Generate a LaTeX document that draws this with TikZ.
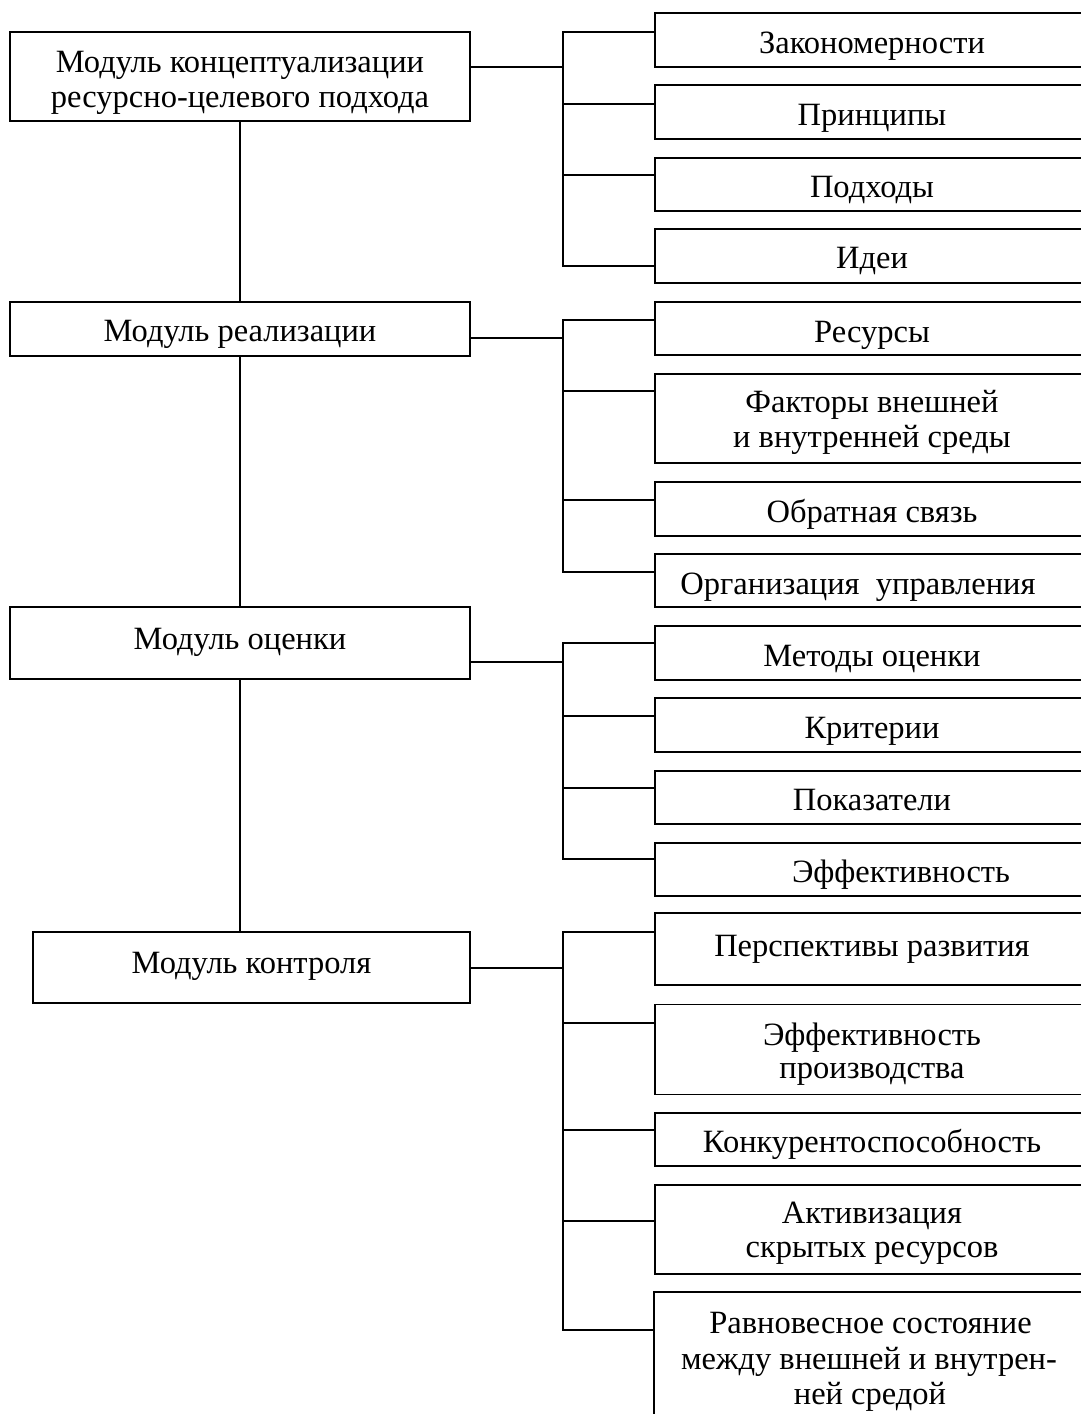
\documentclass[tikz,border=0pt]{standalone}
\usepackage{fontspec}
\setmainfont{Liberation Serif}
\begin{document}
\begin{tikzpicture}[x=1pt,y=-1pt,
  box/.style={draw, line width=1.6pt, inner sep=0pt},
  lbox/.style={box, minimum width=460pt},
  rbox/.style={box, minimum width=434pt},
  tl/.style={font=\fontsize{32.5}{35}\selectfont, inner sep=0pt, anchor=base},
  conn/.style={line width=1.6pt}]
\useasboundingbox (0,0) rectangle (1081,1414);
% left column boxes
\node[lbox, minimum height=89pt] (L1) at (240,76.5) {};
\node[lbox, minimum height=54pt] (L2) at (240,329) {};
\node[lbox, minimum height=72pt] (L3) at (240,643) {};
\node[box, minimum width=437pt, minimum height=71pt] (L4) at (251.5,967.5) {};
% left column texts
\node[tl, yshift=4.5pt] (tL1a) at (L1.center) {Модуль концептуализации};
\node[tl, yshift=-30.5pt] (tL1b) at (L1.center) {ресурсно-целевого подхода};
\node[tl, yshift=-12pt] (tL2) at (L2.center) {Модуль реализации};
\node[tl, yshift=-6pt] (tL3) at (L3.center) {Модуль оценки};
\node[tl, yshift=-5.5pt] (tL4) at (L4.center) {Модуль контроля};
% right column boxes
\node[rbox, minimum height=54pt] (R1a) at (872,40) {};
\node[rbox, minimum height=54pt] (R1b) at (872,112) {};
\node[rbox, minimum height=53pt] (R1c) at (872,184.5) {};
\node[rbox, minimum height=54pt] (R1d) at (872,256) {};
\node[rbox, minimum height=53pt] (R2a) at (872,328.5) {};
\node[rbox, minimum height=89pt] (R2b) at (872,418.5) {};
\node[rbox, minimum height=54pt] (R2c) at (872,509) {};
\node[rbox, minimum height=53pt] (R2d) at (872,580.5) {};
\node[rbox, minimum height=54pt] (R3a) at (872,653) {};
\node[rbox, minimum height=54pt] (R3b) at (872,725) {};
\node[rbox, minimum height=53pt] (R3c) at (872,797.5) {};
\node[rbox, minimum height=53pt] (R3d) at (872,869.5) {};
\node[rbox, minimum height=72pt] (R4a) at (872,949) {};
\node[rbox, minimum height=90pt] (R4b) at (872,1049.5) {};
\node[rbox, minimum height=53pt] (R4c) at (872,1139.5) {};
\node[rbox, minimum height=89pt] (R4d) at (872,1229.5) {};
\node[rbox, draw=none, minimum height=148pt] (R4e) at (872,1367) {};
\draw[line width=1.6pt] (R4e.south west) -- (R4e.north west) -- (R4e.north east);
% right column texts
\node[tl, yshift=-13pt] (tR1a) at (R1a.center) {Закономерности};
\node[tl, yshift=-13pt] (tR1b) at (R1b.center) {Принципы};
\node[tl, yshift=-12.5pt] (tR1c) at (R1c.center) {Подходы};
\node[tl, yshift=-12pt] (tR1d) at (R1d.center) {Идеи};
\node[tl, yshift=-13.5pt] (tR2a) at (R2a.center) {Ресурсы};
\node[tl, yshift=6.5pt] (tR2b1) at (R2b.center) {Факторы внешней};
\node[tl, yshift=-28.5pt] (tR2b2) at (R2b.center) {и внутренней среды};
\node[tl, yshift=-13pt] (tR2c) at (R2c.center) {Обратная связь};
\node[tl, yshift=-13.5pt, xshift=-14pt] (tR2d) at (R2d.center) {Организация~~управления};
\node[tl, yshift=-13pt] (tR3a) at (R3a.center) {Методы оценки};
\node[tl, yshift=-13pt] (tR3b) at (R3b.center) {Критерии};
\node[tl, yshift=-12.5pt] (tR3c) at (R3c.center) {Показатели};
\node[tl, yshift=-12.5pt, xshift=29pt] (tR3d) at (R3d.center) {Эффективность};
\node[tl, yshift=-7pt] (tR4a) at (R4a.center) {Перспективы развития};
\node[tl, yshift=4pt] (tR4b1) at (R4b.center) {Эффективность};
\node[tl, yshift=-29pt] (tR4b2) at (R4b.center) {производства};
\node[tl, yshift=-12.5pt] (tR4c) at (R4c.center) {Конкурентоспособность};
\node[tl, yshift=6.5pt] (tR4d1) at (R4d.center) {Активизация};
\node[tl, yshift=-27.5pt] (tR4d2) at (R4d.center) {скрытых ресурсов};
\node[tl, yshift=34pt, xshift=-1.5pt] (tR4e1) at (R4e.center) {Равновесное состояние};
\node[tl, yshift=-2pt, xshift=-3pt] (tR4e2) at (R4e.center) {между внешней и внутрен-};
\node[tl, yshift=-37pt, xshift=-2pt] (tR4e3) at (R4e.center) {ней средой};
% spine
\draw[conn] (L1.south) -- (L2.north);
\draw[conn] (L2.south) -- (L3.north);
\draw[conn] (L3.south) -- (L3.south |- L4.north);
% bus x position
\coordinate (B) at (563,0);
% group 1
\draw[conn] (L1.east |- 0,67) -- (B |- 0,67);
\draw[conn] (R1a.west |- 0,32) -- (B |- 0,32) -- (B |- 0,266) -- (R1d.west |- 0,266);
\draw[conn] (R1b.west |- 0,104) -- (B |- 0,104);
\draw[conn] (R1c.west |- 0,175) -- (B |- 0,175);
% group 2
\draw[conn] (L2.east |- 0,338) -- (B |- 0,338);
\draw[conn] (R2a.west |- 0,320) -- (B |- 0,320) -- (B |- 0,572) -- (R2d.west |- 0,572);
\draw[conn] (R2b.west |- 0,391) -- (B |- 0,391);
\draw[conn] (R2c.west |- 0,500) -- (B |- 0,500);
% group 3
\draw[conn] (L3.east |- 0,662) -- (B |- 0,662);
\draw[conn] (R3a.west |- 0,643) -- (B |- 0,643) -- (B |- 0,859) -- (R3d.west |- 0,859);
\draw[conn] (R3b.west |- 0,716) -- (B |- 0,716);
\draw[conn] (R3c.west |- 0,788) -- (B |- 0,788);
% group 4
\draw[conn] (L4.east |- 0,968) -- (B |- 0,968);
\draw[conn] (R4a.west |- 0,932) -- (B |- 0,932) -- (B |- 0,1330) -- (R4e.west |- 0,1330);
\draw[conn] (R4b.west |- 0,1023) -- (B |- 0,1023);
\draw[conn] (R4c.west |- 0,1130) -- (B |- 0,1130);
\draw[conn] (R4d.west |- 0,1221) -- (B |- 0,1221);
\end{tikzpicture}
\end{document}
